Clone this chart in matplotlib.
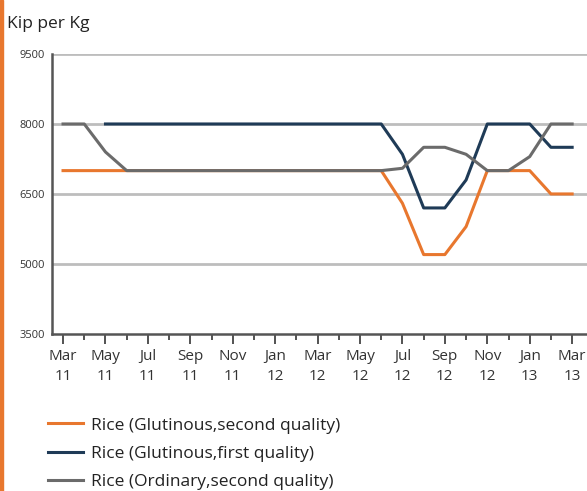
import numpy as np
import matplotlib.pyplot as plt
from matplotlib.patches import Rectangle

plt.rcParams['font.family'] = ['Open Sans', 'DejaVu Sans']

# months from Mar 11 (0) to Mar 13 (24)
tick_labels = ['Mar\n11', 'May\n11', 'Jul\n11', 'Sep\n11', 'Nov\n11', 'Jan\n12', 'Mar\n12',
               'May\n12', 'Jul\n12', 'Sep\n12', 'Nov\n12', 'Jan\n13', 'Mar\n13']

glut_second_m = [0, 1, 2, 3, 4, 5, 6, 7, 8, 9, 10, 11, 12, 13, 14, 15, 16, 17, 18, 19, 20, 21, 22, 23, 24]
glut_second = [7000, 7000, 7000, 7000, 7000, 7000, 7000, 7000, 7000, 7000, 7000, 7000, 7000,
               7000, 7000, 7000, 6300, 5200, 5200, 5800, 7000, 7000, 7000, 6500, 6500]

glut_first_m = [2, 3, 4, 5, 6, 7, 8, 9, 10, 11, 12, 13, 14, 15, 16, 17, 18, 19, 20, 21, 22, 23, 24]
glut_first = [8000, 8000, 8000, 8000, 8000, 8000, 8000, 8000, 8000, 8000, 8000, 8000, 8000,
              8000, 7350, 6200, 6200, 6800, 8000, 8000, 8000, 7500, 7500]

ord_second_m = [0, 1, 2, 3, 4, 5, 6, 7, 8, 9, 10, 11, 12, 13, 14, 15, 16, 17, 18, 19, 20, 21, 22, 23, 24]
ord_second = [8000, 8000, 7400, 7000, 7000, 7000, 7000, 7000, 7000, 7000, 7000, 7000, 7000,
              7000, 7000, 7000, 7050, 7500, 7500, 7350, 7000, 7000, 7300, 8000, 8000]

fig = plt.figure(figsize=(5.87, 4.91), dpi=100)
ax = fig.add_axes([0.0886, 0.32, 0.9114, 0.57])

# grid lines
for v in [5000, 6500, 8000, 9500]:
    ax.axhline(v, color='#bdbdbd', lw=2, zorder=1)

ax.plot(glut_first_m, glut_first, color='#1f3b57', lw=2.2, zorder=3,
        label='Rice (Glutinous,first quality)')
ax.plot(glut_second_m, glut_second, color='#e8772e', lw=2.2, zorder=2,
        label='Rice (Glutinous,second quality)')
ax.plot(ord_second_m, ord_second, color='#6b6b6b', lw=2.2, zorder=4,
        label='Rice (Ordinary,second quality)')

ax.set_xlim(-0.52, 24.7)
ax.set_ylim(3500, 9500)
ax.set_yticks([3500, 5000, 6500, 8000, 9500])
ax.set_yticklabels(['3500', '5000', '6500', '8000', '9500'], fontsize=8, color='#333333')
ax.tick_params(axis='y', length=0, pad=5)

ax.set_xticks(np.arange(0, 25, 2))
ax.set_xticklabels(tick_labels, fontsize=11, color='#333333', linespacing=1.45)
ax.set_xticks(np.arange(1, 25, 2), minor=True)
ax.tick_params(axis='x', which='major', length=7, width=1.3, color='#444444', pad=4)
ax.tick_params(axis='x', which='minor', length=4, width=1.3, color='#444444')

for s in ['top', 'right']:
    ax.spines[s].set_visible(False)
for s in ['left', 'bottom']:
    ax.spines[s].set_color('#555555')
    ax.spines[s].set_linewidth(1.8)
    ax.spines[s].set_zorder(5)

fig.text(0.012, 0.952, 'Kip per Kg', fontsize=12.5, color='#222222', va='center')

handles, labels = ax.get_legend_handles_labels()
order = [1, 0, 2]
fig.legend([handles[i] for i in order], [labels[i] for i in order],
           loc='upper left', bbox_to_anchor=(0.082, 0.150), frameon=False,
           fontsize=12.5, handlelength=2.0, labelspacing=0.7, handletextpad=0.45,
           borderpad=0, borderaxespad=0, labelcolor='#222222')

# orange border on the left edge
fig.patches.append(Rectangle((0, 0), 0.005, 1, transform=fig.transFigure,
                             color='#e8772e', zorder=0))

fig.savefig('out.png', dpi=100)
